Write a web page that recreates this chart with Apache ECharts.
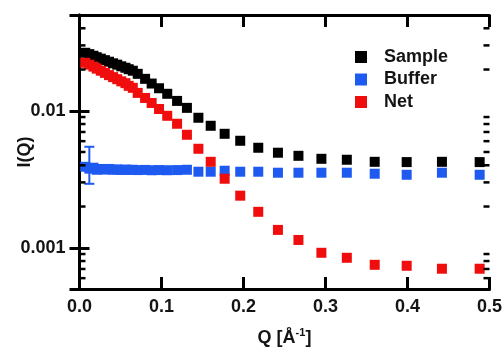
<!DOCTYPE html>
<html>
<head>
<meta charset="utf-8">
<script src="https://cdn.jsdelivr.net/npm/echarts@6/dist/echarts.min.js"></script>
<style>
html,body{margin:0;padding:0;background:#fff;}
#c{width:504px;height:349px;}
</style>
</head>
<body>
<div id="c"></div>
<script>
// ---- data ----
const qValues = [0.007,0.012,0.017,0.021,0.026,0.031,0.036,0.041,0.046,0.051,0.056,0.060,0.065,0.071,0.080,0.088,0.097,0.107,0.119,0.131,0.145,0.160,0.177,0.196,0.218,0.242,0.267,0.295,0.326,0.360,0.399,0.442,0.488];
const sampleValues = [0.0265,0.0259,0.0252,0.0246,0.0240,0.0234,0.0228,0.0222,0.0217,0.0211,0.0206,0.0201,0.0196,0.0186,0.0171,0.0158,0.0146,0.0133,0.0118,0.0105,0.00889,0.00777,0.00679,0.00604,0.00537,0.00494,0.00469,0.00446,0.00439,0.00424,0.00422,0.00424,0.00422];
const bufferValues = [0.00390,0.00378,0.00384,0.00371,0.00376,0.00372,0.00376,0.00371,0.00373,0.00370,0.00372,0.00370,0.00371,0.00369,0.00370,0.00368,0.00369,0.00368,0.00369,0.00371,0.00359,0.00359,0.00365,0.00359,0.00359,0.00353,0.00353,0.00353,0.00353,0.00347,0.00341,0.00353,0.00341];
const netValues = [0.0224,0.0217,0.0210,0.0203,0.0196,0.0189,0.0182,0.0176,0.0170,0.0164,0.0159,0.0152,0.0147,0.0135,0.0124,0.0114,0.0103,0.00919,0.00804,0.00668,0.00528,0.00424,0.00319,0.00240,0.00183,0.00135,0.00114,0.000919,0.000845,0.000751,0.000739,0.000703,0.000703];
const errQ = [0.012];
const errLow = [0.00293];
const errHigh = [0.00546];
const seriesNames = ['Sample','Buffer','Net'];
const xTickLabels = ['0.0','0.1','0.2','0.3','0.4','0.5'];
const yTickLabels = ['0.001','0.01'];
const yMinorTicks = [0.0006,0.0007,0.0008,0.0009,0.002,0.003,0.004,0.005,0.006,0.007,0.008,0.009,0.02,0.03,0.04];

const FONT = "'Liberation Sans', Arial, sans-serif";
const TXT = '#141414';
const colors = ['#000000','#1e5af0','#f00d0d'];

function pairs(ys){ return qValues.map((q,i)=>[q, ys[i]]); }

const chart = echarts.init(document.getElementById('c'), null, {renderer:'canvas'});

const axisLineStyle = {color:'#000', width:3};
const option = {
  backgroundColor:'#fff',
  animation:false,
  grid:{left:79.5, right:14.5, top:15, bottom:60, containLabel:false, outerBoundsMode:'none'},
  legend:{
    data:seriesNames, orient:'vertical', left:350, top:43,
    icon:'rect', itemWidth:12, itemHeight:12, itemGap:4.5,
    itemStyle:{opacity:1},
    textStyle:{fontFamily:FONT, fontWeight:'bold', fontSize:18, color:TXT, lineHeight:18, padding:[0,0,0,12]}
  },
  xAxis:[{
    type:'value', min:0, max:0.5, interval:0.1, position:'bottom',
    axisLine:{show:true, lineStyle:axisLineStyle},
    axisTick:{show:true, inside:true, length:12, lineStyle:{color:'#000', width:3}},
    axisLabel:{margin:9, fontFamily:FONT, fontWeight:'bold', fontSize:18, color:TXT,
      formatter:(v)=>{ const i=Math.round(v/0.1); return xTickLabels[i] ?? ''; }},
    splitLine:{show:false},
    name:'{a|Q [Å}{s|-1}{a|]}', nameLocation:'middle', nameGap:38, nameMoveOverlap:false,
    nameTextStyle:{rich:{
      a:{fontFamily:FONT, fontWeight:'bold', fontSize:18, color:TXT, lineHeight:20, verticalAlign:'bottom'},
      s:{fontFamily:FONT, fontWeight:'bold', fontSize:11, color:TXT, lineHeight:20, verticalAlign:'top'}
    }}
  },{
    type:'value', min:0, max:0.5, interval:0.1, position:'top',
    axisLine:{show:true, lineStyle:axisLineStyle},
    axisTick:{show:true, inside:true, length:12, lineStyle:{color:'#000', width:3}},
    axisLabel:{show:false}, splitLine:{show:false}
  }],
  yAxis:[{
    type:'log', logBase:10, min:0.0005, max:0.05, position:'left',
    axisLine:{show:true, lineStyle:axisLineStyle},
    axisTick:{show:true, inside:true, length:10, lineStyle:{color:'#000', width:3}},
    axisLabel:{margin:14, fontFamily:FONT, fontWeight:'bold', fontSize:18, color:TXT,
      showMinLabel:false, showMaxLabel:false,
      formatter:(v)=>{
        for(const l of yTickLabels){ if(Math.abs(Math.log10(v)-Math.log10(parseFloat(l)))<1e-6) return l; }
        return '';
      }},
    splitLine:{show:false}, minorTick:{show:false}, minorSplitLine:{show:false},
    name:'I(Q)', nameLocation:'middle', nameGap:45, nameMoveOverlap:false,
    nameTextStyle:{fontFamily:FONT, fontWeight:'bold', fontSize:18, color:TXT}
  },{
    type:'log', logBase:10, min:0.0005, max:0.05, position:'right',
    axisLine:{show:true, lineStyle:axisLineStyle},
    axisTick:{show:true, inside:true, length:10, lineStyle:{color:'#000', width:3}},
    axisLabel:{show:false}, splitLine:{show:false}
  }],
  series:[
    {
      type:'custom', name:'minorTicks', xAxisIndex:0, yAxisIndex:0, silent:true, clip:false, z:5,
      data:yMinorTicks.map(v=>[0, v]),
      renderItem:(params, api)=>{
        const cs = params.coordSys;
        const y = api.coord([0, api.value(1)])[1];
        const st = {stroke:'#000', lineWidth:2.5};
        return {type:'group', children:[
          {type:'line', shape:{x1:cs.x, y1:y, x2:cs.x+6, y2:y}, style:st},
          {type:'line', shape:{x1:cs.x+cs.width-6, y1:y, x2:cs.x+cs.width, y2:y}, style:st}
        ]};
      }
    },
    {name:seriesNames[0], type:'scatter', symbol:'rect', symbolSize:10, data:pairs(sampleValues),
      itemStyle:{color:colors[0], opacity:1}, z:2},
    {
      type:'custom', name:'bufferErr', xAxisIndex:0, yAxisIndex:0, silent:true, z:3,
      data:errQ.map((q,i)=>[q, errLow[i], errHigh[i]]),
      renderItem:(params, api)=>{
        const lo = api.coord([api.value(0), api.value(1)]);
        const hi = api.coord([api.value(0), api.value(2)]);
        const st = {stroke:colors[1], lineWidth:2};
        return {type:'group', children:[
          {type:'line', shape:{x1:lo[0], y1:lo[1], x2:hi[0], y2:hi[1]}, style:st},
          {type:'line', shape:{x1:lo[0]-5, y1:lo[1], x2:lo[0]+5, y2:lo[1]}, style:st},
          {type:'line', shape:{x1:hi[0]-5, y1:hi[1], x2:hi[0]+5, y2:hi[1]}, style:st}
        ]};
      }
    },
    {name:seriesNames[1], type:'scatter', symbol:'rect', symbolSize:10, data:pairs(bufferValues),
      itemStyle:{color:colors[1], opacity:1}, z:3},
    {name:seriesNames[2], type:'scatter', symbol:'rect', symbolSize:10, data:pairs(netValues),
      itemStyle:{color:colors[2], opacity:1}, z:4}
  ]
};
chart.setOption(option);
</script>
</body>
</html>
